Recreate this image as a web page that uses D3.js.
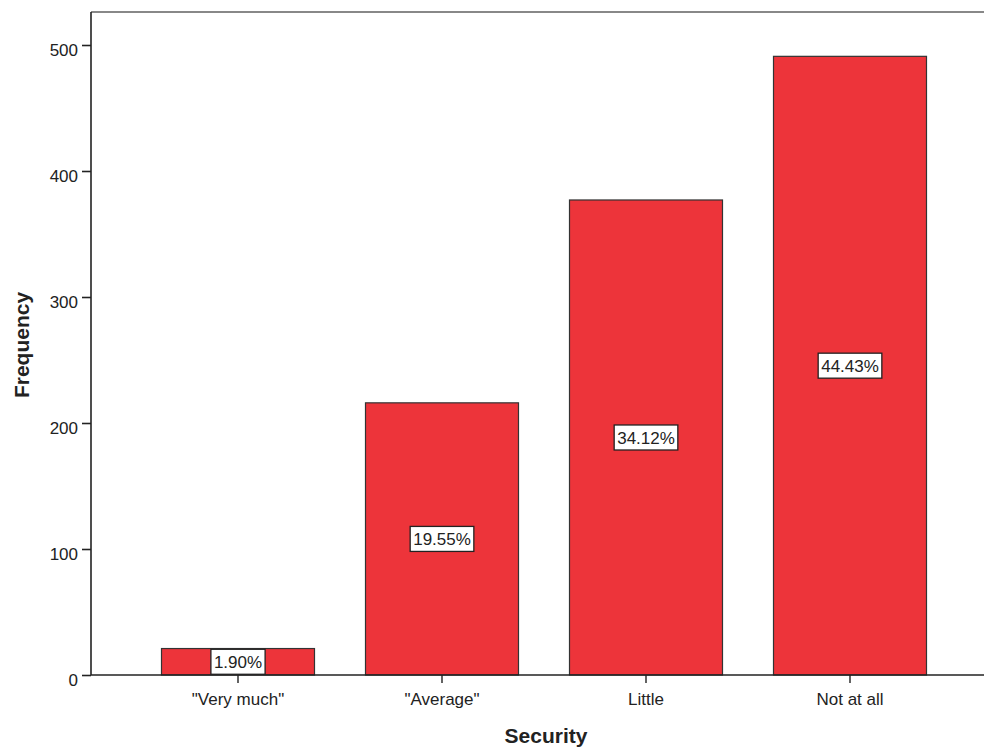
<!DOCTYPE html>
<html><head><meta charset="utf-8">
<script src="https://cdn.jsdelivr.net/npm/d3@7"></script>
<style>body{margin:0;background:#fff}svg{display:block}text{font-family:"Liberation Sans",Arial,sans-serif;fill:#222}</style>
</head><body>
<svg id="c" width="984" height="749"></svg>
<script>
const categories = ['"Very much"', '"Average"', 'Little', 'Not at all'];
const frequencies = [21, 216, 377, 491];
const yTicks = [0, 100, 200, 300, 400, 500];
const xTitle = "Security";
const yTitle = "Frequency";

const svg = d3.select("#c");
const total = d3.sum(frequencies);
const data = categories.map((c, i) => ({c, v: frequencies[i], p: (frequencies[i] / total * 100).toFixed(2) + "%"}));

const mLeft = 91, mRight = 984, mTop = 12, mBottom = 675;
const x = d3.scaleBand().domain(categories).range([136, 952]).paddingInner(0.25).paddingOuter(0.125);
const y = d3.scaleLinear().domain([0, 500]).range([mBottom, 45]);

// top frame line
svg.append("line").attr("x1", mLeft).attr("x2", mRight).attr("y1", mTop).attr("y2", mTop)
  .attr("stroke", "#888").attr("stroke-width", 2);

// bars
svg.selectAll("rect.bar").data(data).join("rect").attr("class", "bar")
  .attr("x", d => x(d.c)).attr("width", x.bandwidth())
  .attr("y", d => y(d.v)).attr("height", d => y(0) - y(d.v))
  .attr("fill", "#ED343A").attr("stroke", "#333").attr("stroke-width", 1.2);

// y axis
const ya = svg.append("g").attr("transform", `translate(${mLeft},0)`)
  .call(d3.axisLeft(y).tickValues(yTicks).tickSize(9).tickPadding(4).tickFormat(d3.format("d")));
ya.select(".domain").attr("d", `M0,${mTop}V${mBottom}`).attr("stroke", "#222").attr("stroke-width", 1.6);
ya.selectAll(".tick line").attr("stroke", "#222").attr("stroke-width", 1.6);
ya.selectAll(".tick text").attr("font-size", 17).attr("dy", "0.6em").style("font-family", '"Liberation Sans",Arial,sans-serif').attr("fill", "#222");

// x axis
const xa = svg.append("g").attr("transform", `translate(0,${mBottom})`)
  .call(d3.axisBottom(x).tickSize(8).tickPadding(6));
xa.select(".domain").attr("d", `M${mLeft},0H${mRight}`).attr("stroke", "#222").attr("stroke-width", 1.6);
xa.selectAll(".tick line").attr("stroke", "#222").attr("stroke-width", 1.4);
xa.selectAll(".tick text").attr("font-size", 17).attr("dy", "0.95em").style("font-family", '"Liberation Sans",Arial,sans-serif').attr("fill", "#222");

// percentage labels
const lg = svg.selectAll("g.lab").data(data).join("g").attr("class", "lab")
  .attr("transform", d => `translate(${x(d.c) + x.bandwidth() / 2},${(y(d.v) + y(0)) / 2})`);
lg.append("text").attr("text-anchor", "middle").attr("dy", "0.36em").attr("font-size", 17).text(d => d.p);
lg.each(function() {
  const g = d3.select(this);
  const bb = g.select("text").node().getBBox();
  g.insert("rect", "text").attr("x", bb.x - 3).attr("y", -12.5).attr("width", bb.width + 6).attr("height", 25)
    .attr("fill", "#fff").attr("stroke", "#222").attr("stroke-width", 1.3);
});

// titles
svg.append("text").attr("x", 546).attr("y", 743).attr("text-anchor", "middle")
  .attr("font-size", 21).attr("font-weight", "bold").text(xTitle);
svg.append("text").attr("transform", "translate(29,345) rotate(-90)").attr("text-anchor", "middle")
  .attr("font-size", 21).attr("font-weight", "bold").text(yTitle);
</script>
</body></html>
